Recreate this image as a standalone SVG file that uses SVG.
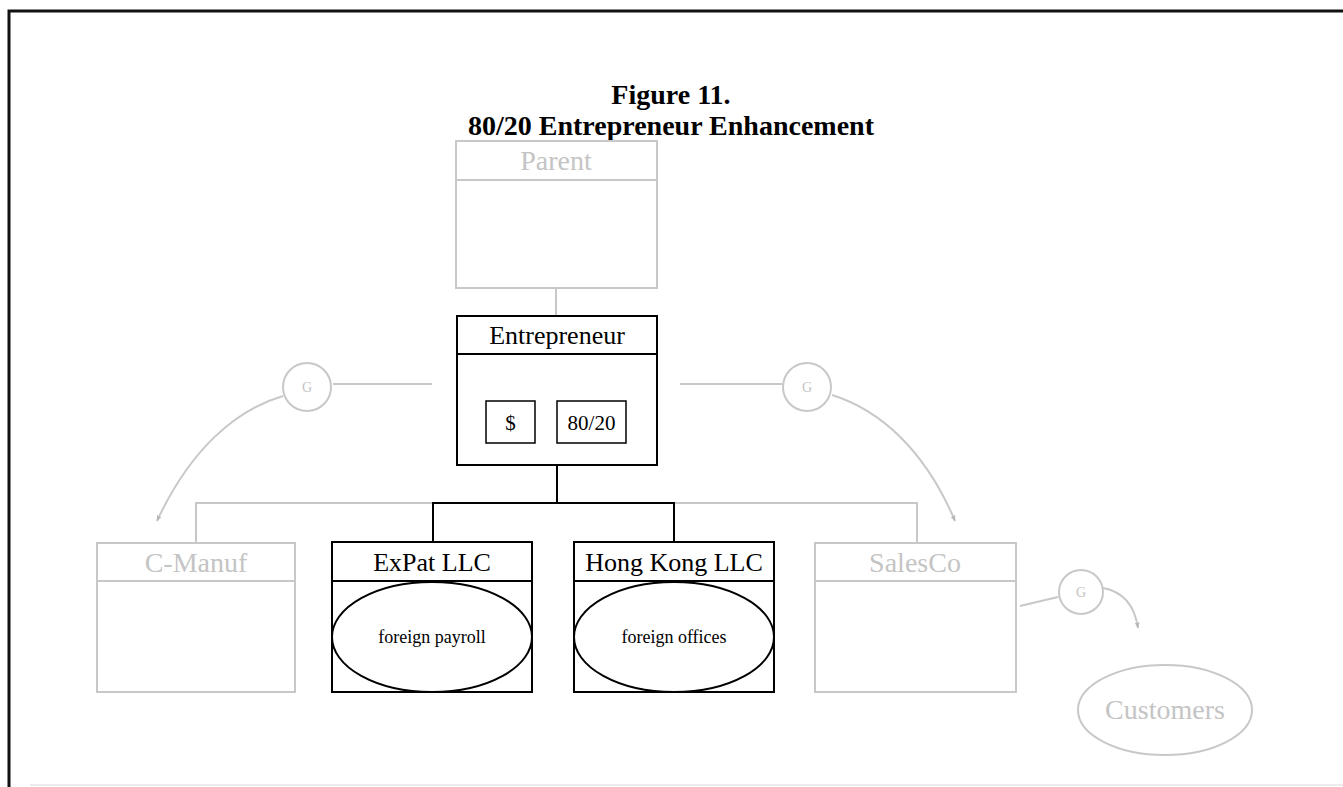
<svg xmlns="http://www.w3.org/2000/svg" width="1343" height="787" viewBox="0 0 1343 787">
<defs>
<style>
.t{font-family:"Liberation Serif","Times New Roman",serif;text-anchor:middle}
.title{font-size:28px;font-weight:bold;fill:#000}
.hdr{font-size:26px;fill:#000}
.ghdr{font-size:28px;fill:#c4c4c4}
.small{font-size:21px;fill:#000}
.tiny{font-size:18px;fill:#000}
.g{font-size:14px;fill:#c4c4c4}
.bk{fill:#fff;stroke:#000;stroke-width:2}
.bk1{fill:#fff;stroke:#000;stroke-width:1.5}
.gy{fill:#fff;stroke:#c8c8c8;stroke-width:2}
.cb{fill:none;stroke:#000;stroke-width:2}
.cg{fill:none;stroke:#c8c8c8;stroke-width:2}
</style>
<marker id="ah" viewBox="0 0 10 10" refX="9" refY="5" markerWidth="6" markerHeight="6" orient="auto" markerUnits="userSpaceOnUse">
<path d="M0,1 L10,5 L0,9 z" fill="#b8b8b8"/>
</marker>
</defs>
<rect width="1343" height="787" fill="#fff"/>
<g id="frame">
<path d="M9,787 L9,11 L1343,11" fill="none" stroke="#111" stroke-width="3"/>
<line x1="30" y1="785" x2="1343" y2="785" stroke="#e6e6e6" stroke-width="1.5"/>
</g>
<g id="title">
<text class="t title" x="671" y="104">Figure 11.</text>
<text class="t title" x="671" y="135">80/20 Entrepreneur Enhancement</text>
</g>
<g id="connectors">
<line class="cg" x1="556" y1="288" x2="556" y2="316"/>
<polyline class="cg" points="196,543 196,503 917,503 917,543"/>
<polyline class="cb" points="557,465 557,503"/>
<polyline class="cb" points="433,542 433,503 674,503 674,542"/>
<line class="cg" x1="333" y1="384" x2="432" y2="384"/>
<path class="cg" d="M283,396 C235,410 190,450 157,521" marker-end="url(#ah)"/>
<line class="cg" x1="680" y1="384" x2="782" y2="384"/>
<path class="cg" d="M832,395 C880,410 925,450 955,521" marker-end="url(#ah)"/>
<line class="cg" x1="1020" y1="606" x2="1058" y2="597"/>
<path class="cg" d="M1103,588 C1125,592 1135,608 1138,628" marker-end="url(#ah)"/>
</g>
<g id="parent">
<rect class="gy" x="456" y="141" width="201" height="147"/>
<line class="cg" x1="456" y1="180" x2="657" y2="180"/>
<text class="t ghdr" x="556" y="170">Parent</text>
</g>
<g id="entrepreneur">
<rect class="bk" x="457" y="316" width="200" height="149"/>
<line class="cb" x1="457" y1="354" x2="657" y2="354"/>
<text class="t hdr" x="557" y="344">Entrepreneur</text>
<rect class="bk1" x="486" y="401" width="49" height="42"/>
<text class="t small" x="510.5" y="430">$</text>
<rect class="bk1" x="557" y="401" width="69" height="42"/>
<text class="t small" x="591.5" y="430">80/20</text>
</g>
<g id="g-left">
<circle cx="307" cy="387" r="24" fill="#fff" stroke="#c8c8c8" stroke-width="2"/>
<text class="t g" x="307" y="392">G</text>
</g>
<g id="g-right">
<circle cx="807" cy="387" r="24" fill="#fff" stroke="#c8c8c8" stroke-width="2"/>
<text class="t g" x="807" y="392">G</text>
</g>
<g id="cmanuf">
<rect class="gy" x="97" y="543" width="198" height="149"/>
<line class="cg" x1="97" y1="581" x2="295" y2="581"/>
<text class="t ghdr" x="196" y="572">C-Manuf</text>
</g>
<g id="expat">
<rect class="bk" x="332" y="542" width="200" height="150"/>
<line class="cb" x1="332" y1="581" x2="532" y2="581"/>
<text class="t hdr" x="432" y="571">ExPat LLC</text>
<ellipse class="bk" cx="432" cy="637" rx="100" ry="55"/>
<text class="t tiny" x="432" y="643">foreign payroll</text>
</g>
<g id="hongkong">
<rect class="bk" x="574" y="542" width="200" height="150"/>
<line class="cb" x1="574" y1="581" x2="774" y2="581"/>
<text class="t hdr" x="674" y="571">Hong Kong LLC</text>
<ellipse class="bk" cx="674" cy="637" rx="100" ry="55"/>
<text class="t tiny" x="674" y="643">foreign offices</text>
</g>
<g id="salesco">
<rect class="gy" x="815" y="543" width="201" height="149"/>
<line class="cg" x1="815" y1="581" x2="1016" y2="581"/>
<text class="t ghdr" x="915" y="572">SalesCo</text>
</g>
<g id="g-customers">
<circle cx="1081" cy="592" r="22" fill="#fff" stroke="#c8c8c8" stroke-width="2"/>
<text class="t g" x="1081" y="597">G</text>
</g>
<g id="customers">
<ellipse class="gy" cx="1165" cy="710" rx="87" ry="45"/>
<text class="t ghdr" x="1165" y="719">Customers</text>
</g>
</svg>
